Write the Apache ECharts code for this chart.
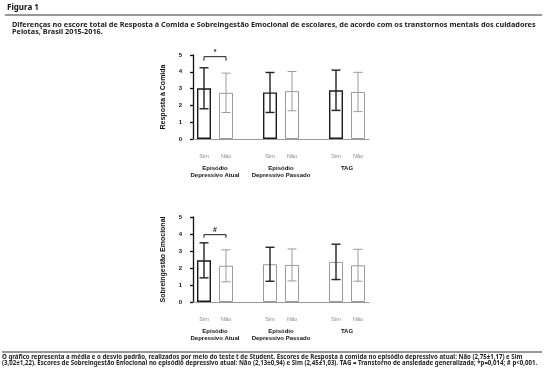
<!DOCTYPE html>
<html>
<head>
<meta charset="utf-8">
<script src="https://cdn.jsdelivr.net/npm/echarts@6/dist/echarts.min.js"></script>
<style>
  html, body { margin: 0; padding: 0; background: #fff; }
  #chart { width: 550px; height: 377px; }
</style>
</head>
<body>
<div id="chart"></div>
<script>
// categories: Sim / Não per group, empty slot between groups
const categories = ['Sim', 'Não', '', 'Sim', 'Não', '', 'Sim', 'Não'];
const groupNames = ['Episódio\nDepressivo Atual', 'Episódio\nDepressivo Passado', 'TAG'];
const yTicks = [0, 1, 2, 3, 4, 5];

// Resposta à Comida (mean, sd)
const respostaMean = [3.02, 2.75, null, 2.77, 2.85, null, 2.90, 2.80];
const respostaSd = [1.22, 1.17, null, 1.19, 1.17, null, 1.20, 1.17];

// Sobreingestão Emocional (mean, sd)
const sobreMean = [2.45, 2.13, null, 2.22, 2.18, null, 2.36, 2.16];
const sobreSd = [1.03, 0.94, null, 1.00, 0.94, null, 1.04, 0.94];

// significance brackets: [from, to, level, tickEnd, label]
const respostaSig = [[0, 1, 4.9, 4.66, '*']];
const sobreSig = [[0, 1, 3.96, 3.78, '#']];

const FONT = '"Liberation Sans", Arial, sans-serif';
const CAPFONT = '"Noto Sans", "Open Sans", sans-serif';
const DARK = '#1a1a1a';
const GRAY = '#9a9a9a';

const chart = echarts.init(document.getElementById('chart'));

// group label sits in the middle of its Sim/Não pair
const groupAt = {};
let gi = 0;
categories.forEach((c, i) => {
  if (c === 'Sim') { groupAt[i + 1] = groupNames[gi++]; }
});

function barData(means, darkIdx) {
  return means.map((m, i) => {
    if (m == null) return null;
    const dark = darkIdx.indexOf(i) >= 0;
    return {
      value: m,
      itemStyle: { color: '#fff', borderColor: dark ? DARK : GRAY, borderWidth: dark ? 1.4 : 1 }
    };
  });
}

function errData(means, sds) {
  const out = [];
  means.forEach((m, i) => {
    if (m != null) out.push([i, m - sds[i], m + sds[i], categories[i] === 'Sim' ? 1 : 0]);
  });
  return out;
}

function renderErr(params, api) {
  const x = api.value(0);
  const lo = api.coord([x, api.value(1)]);
  const hi = api.coord([x, api.value(2)]);
  const dark = api.value(3) === 1;
  const style = { stroke: dark ? '#222' : GRAY, lineWidth: dark ? 1.4 : 1 };
  const w = 4.5;
  return {
    type: 'group',
    children: [
      { type: 'line', shape: { x1: lo[0], y1: lo[1], x2: hi[0], y2: hi[1] }, style },
      { type: 'line', shape: { x1: hi[0] - w, y1: hi[1], x2: hi[0] + w, y2: hi[1] }, style },
      { type: 'line', shape: { x1: lo[0] - w, y1: lo[1], x2: lo[0] + w, y2: lo[1] }, style }
    ]
  };
}

function renderSig(params, api) {
  const a = api.coord([api.value(0), api.value(2)]);
  const b = api.coord([api.value(1), api.value(2)]);
  const a2 = api.coord([api.value(0), api.value(3)]);
  const label = params.dataIndex === 0 ? api.value(4) : '';
  return {
    type: 'group',
    children: [
      { type: 'polyline', shape: { points: [[a[0], a2[1]], a, b, [b[0], a2[1]]] },
        style: { stroke: DARK, lineWidth: 1, fill: null } },
      { type: 'text', x: (a[0] + b[0]) / 2, y: a[1] - 1.5,
        style: { text: label, fill: DARK, font: 'bold 7px ' + FONT, align: 'center', verticalAlign: 'bottom' } }
    ]
  };
}

function catAxis(g) {
  return {
    type: 'category', gridIndex: g, data: categories, offset: 9, position: 'bottom',
    axisLine: { lineStyle: { color: GRAY, width: 1 } },
    axisTick: { alignWithLabel: true, length: 2, lineStyle: { color: GRAY } },
    axisLabel: { interval: 0, color: '#888', fontSize: 5.5, margin: 5, fontFamily: FONT }
  };
}

function groupAxis(g) {
  return {
    type: 'value', gridIndex: g, min: 0, max: 8, interval: 1, offset: 9, position: 'bottom',
    axisLine: { show: false }, axisTick: { show: false }, splitLine: { show: false },
    axisLabel: {
      margin: 16.5, fontSize: 6, fontWeight: 'bold', lineHeight: 7, color: '#111', fontFamily: FONT,
      verticalAlign: 'top', formatter: v => groupAt[v] || ''
    }
  };
}

function valAxis(g, name) {
  return {
    type: 'value', gridIndex: g, min: yTicks[0], max: yTicks[yTicks.length - 1], interval: 1, offset: 9,
    axisLine: { show: true, lineStyle: { color: '#111', width: 1.3 } },
    axisTick: { show: true, length: 3, lineStyle: { color: '#111', width: 1.3 } },
    splitLine: { show: false },
    axisLabel: { fontSize: 6, fontWeight: 'bold', color: '#111', margin: 2, fontFamily: FONT },
    name: name, nameLocation: 'middle', nameGap: 17,
    nameTextStyle: { fontSize: 7, fontWeight: 'bold', color: '#111', fontFamily: FONT }
  };
}

const option = {
  animation: false,
  backgroundColor: '#fff',
  grid: [
    { left: 193, width: 176, top: 55, height: 84 },
    { left: 193, width: 176, top: 217, height: 85 }
  ],
  xAxis: [catAxis(0), groupAxis(0), catAxis(1), groupAxis(1)],
  yAxis: [valAxis(0, 'Resposta à Comida'), valAxis(1, 'Sobreingestão Emocional')],
  series: [
    { type: 'bar', xAxisIndex: 0, yAxisIndex: 0, barWidth: 14, data: barData(respostaMean, [0, 3, 6]) },
    { type: 'custom', xAxisIndex: 0, yAxisIndex: 0, z: 5, renderItem: renderErr, data: errData(respostaMean, respostaSd) },
    { type: 'custom', xAxisIndex: 0, yAxisIndex: 0, z: 5, renderItem: renderSig, data: respostaSig },
    { type: 'bar', xAxisIndex: 2, yAxisIndex: 1, barWidth: 14, data: barData(sobreMean, [0]) },
    { type: 'custom', xAxisIndex: 2, yAxisIndex: 1, z: 5, renderItem: renderErr, data: errData(sobreMean, sobreSd) },
    { type: 'custom', xAxisIndex: 2, yAxisIndex: 1, z: 5, renderItem: renderSig, data: sobreSig }
  ],
  graphic: [
    { type: 'text', left: 7, top: 4, style: { text: 'Figura 1', font: 'bold 8px ' + CAPFONT, fill: '#111' } },
    { type: 'line', shape: { x1: 5, y1: 15, x2: 542, y2: 15 }, style: { stroke: '#333', lineWidth: 1 } },
    { type: 'text', left: 12, top: 21.3, style: {
        text: 'Diferenças no escore total de Resposta à Comida e Sobreingestão Emocional de escolares, de acordo com os transtornos mentais dos cuidadores\nPelotas, Brasil 2015-2016.',
        font: 'bold 7.3px ' + CAPFONT, lineHeight: 7.4, fill: '#222' } },
    { type: 'line', shape: { x1: 2, y1: 352, x2: 542, y2: 352 }, style: { stroke: '#333', lineWidth: 1 } },
    { type: 'text', left: 2, top: 354.5, style: {
        text: 'O gráfico representa a média e o desvio padrão, realizados por meio do teste t de Student. Escores de Resposta à comida no episódio depressivo atual: Não (2,75±1,17) e Sim\n(3,02±1,22). Escores de Sobreingestão Emocional no episódio depressivo atual: Não (2,13±0,94) e Sim (2,45±1,03). TAG = Transtorno de ansiedade generalizada; *p=0,014; # p<0,001.',
        font: 'bold 6.1px ' + CAPFONT, lineHeight: 6, fill: '#222' } }
  ]
};

chart.setOption(option);
</script>
</body>
</html>
